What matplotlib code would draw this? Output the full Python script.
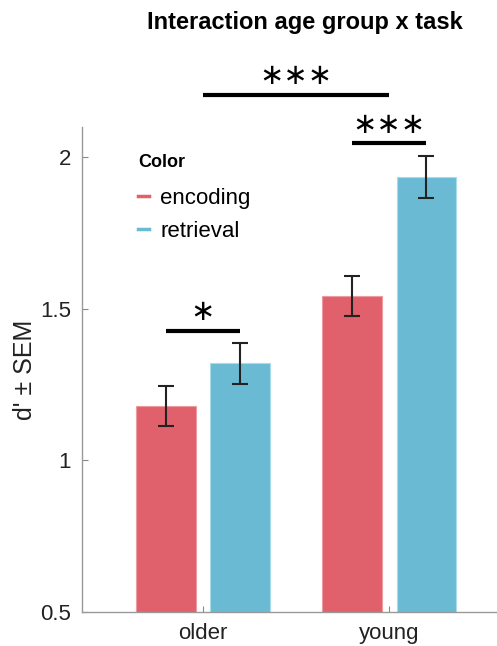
import matplotlib
matplotlib.use("Agg")
import matplotlib.pyplot as plt
from matplotlib.lines import Line2D
import numpy as np

plt.rcParams['font.family'] = ['Liberation Sans', 'DejaVu Sans']

groups = ["older", "young"]
conditions = ["encoding", "retrieval"]
colors = ["#E0606B", "#6ABAD3"]
edge_colors = ["#EE9AA1", "#A9DCEA"]
means = {"encoding": [1.18, 1.543], "retrieval": [1.32, 1.935]}
sems = {"encoding": [0.067, 0.067], "retrieval": [0.069, 0.068]}

# significance: (x1, x2, y, label)
sig_bars = [
	(0.8, 1.2, 1.428, "\u2217"),
	(1.8, 2.2, 2.046, "\u2217\u2217\u2217"),
	(1.0, 2.0, 2.205, "\u2217\u2217\u2217"),
]

fig = plt.figure(figsize=(4.97, 6.46), dpi=100)
ax = fig.add_axes([82 / 497, 1 - 612 / 646, 415 / 497, 485 / 646])

x = np.arange(1, len(groups) + 1)
width = 0.32
offsets = [-0.2, 0.2]
for cond, col, ecol, off in zip(conditions, colors, edge_colors, offsets):
	ax.bar(x + off, means[cond], width, bottom=0, color=col, edgecolor=ecol, linewidth=0.8, zorder=2)
	ax.errorbar(x + off, means[cond], yerr=sems[cond], fmt='none', ecolor='#222222',
		elinewidth=1.5, capsize=5.5, capthick=1.5, zorder=3)

for x1, x2, y, lab in sig_bars:
	ax.plot([x1, x2], [y, y], color='black', lw=3, solid_capstyle='butt', clip_on=False, zorder=4)
	ax.annotate(lab, xy=((x1 + x2) / 2, y), xytext=(0, 13.5), textcoords='offset points',
		ha='center', va='center', fontsize=21, family='DejaVu Sans', annotation_clip=False)

ax.set_xlim(0.35, 2.58)
ax.set_ylim(0.5, 2.1)
ax.set_yticks([0.5, 1, 1.5, 2])
ax.set_yticklabels(["0.5", "1", "1.5", "2"])
ax.set_xticks(x)
ax.set_xticklabels(groups)
ax.tick_params(direction='in', length=4, color='#888888', labelsize=16, labelcolor='#222222', pad=8)
for s in ['top', 'right']:
	ax.spines[s].set_visible(False)
for s in ['left', 'bottom']:
	ax.spines[s].set_color('#999999')
	ax.spines[s].set_linewidth(1)
ax.set_ylabel("d' \u00b1 SEM", fontsize=18, labelpad=2, color='#222222')

handles = [Line2D([], [], color=c, lw=2.5) for c in colors]
leg = ax.legend(handles, conditions, title="Color", loc='upper left',
	bbox_to_anchor=(118 / 497, 1 - 134 / 646), bbox_transform=fig.transFigure,
	frameon=False, fontsize=16, handlelength=0.5, handletextpad=0.5,
	labelspacing=0.55, alignment='left')
leg.get_title().set_fontweight('bold')
leg.get_title().set_fontsize(13)
leg._legend_box.sep = 12

fig.text(305 / 497, 1 - 22 / 646, "Interaction age group x task", ha='center', va='center',
	fontsize=17, fontweight='bold')

fig.savefig("out.png", dpi=100)
